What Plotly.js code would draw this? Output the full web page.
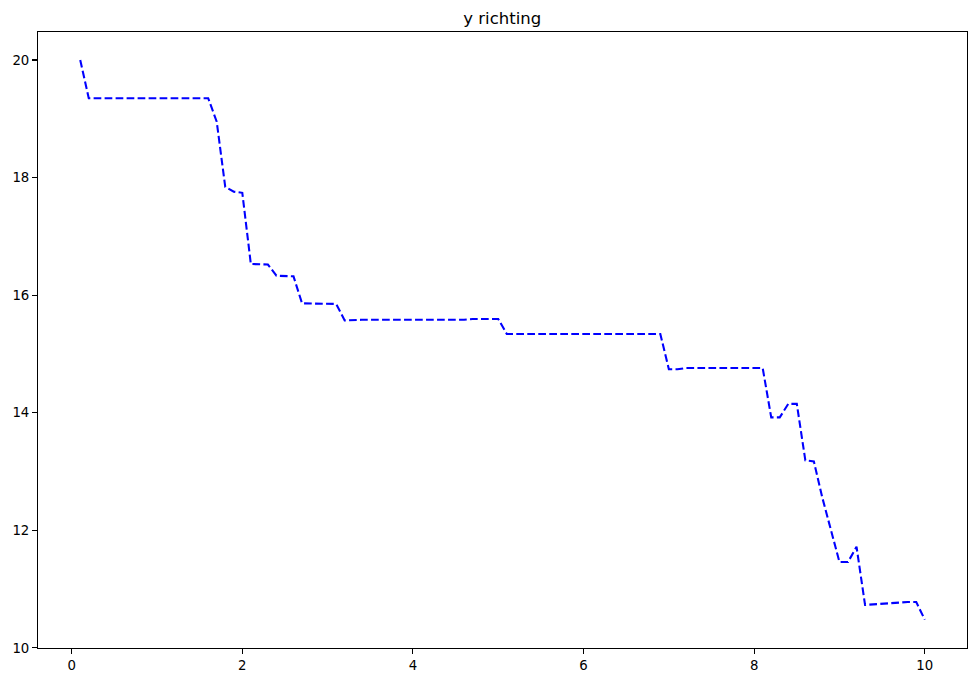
<!DOCTYPE html>
<html>
<head>
<meta charset="utf-8">
<script src="https://cdn.plot.ly/plotly-3.0.1.min.js"></script>
<style>html,body{margin:0;padding:0;background:#fff;}#chart{width:977px;height:682px;}</style>
</head>
<body>
<div id="chart"></div>
<script>
const xValues = [0.1,0.2,0.3,0.4,0.5,0.6,0.7,0.8,0.9,1.0,
  1.1,1.2,1.3,1.4,1.5,1.6,1.7,1.8,1.9,2.0,
  2.1,2.2,2.3,2.4,2.5,2.6,2.7,2.8,2.9,3.0,
  3.1,3.2,3.3,3.4,3.5,3.6,3.7,3.8,3.9,4.0,
  4.1,4.2,4.3,4.4,4.5,4.6,4.7,4.8,4.9,5.0,
  5.1,5.2,5.3,5.4,5.5,5.6,5.7,5.8,5.9,6.0,
  6.1,6.2,6.3,6.4,6.5,6.6,6.7,6.8,6.9,7.0,
  7.1,7.2,7.3,7.4,7.5,7.6,7.7,7.8,7.9,8.0,
  8.1,8.2,8.3,8.4,8.5,8.6,8.7,8.8,8.9,9.0,
  9.1,9.2,9.3,9.4,9.5,9.6,9.7,9.8,9.9,10.0];
const yValues = [20.0,19.35,19.35,19.35,19.35,19.35,19.35,19.35,19.35,19.35,
  19.35,19.35,19.35,19.35,19.35,19.35,18.95,17.84,17.76,17.74,
  16.53,16.53,16.52,16.33,16.33,16.32,15.86,15.86,15.86,15.86,
  15.85,15.57,15.58,15.58,15.58,15.58,15.58,15.58,15.58,15.58,
  15.58,15.58,15.58,15.58,15.58,15.58,15.595,15.595,15.595,15.595,
  15.34,15.34,15.34,15.34,15.34,15.34,15.34,15.34,15.34,15.34,
  15.34,15.34,15.34,15.34,15.34,15.34,15.34,15.34,15.34,14.74,
  14.74,14.76,14.76,14.76,14.76,14.76,14.76,14.76,14.76,14.76,
  14.76,13.92,13.92,14.15,14.15,13.19,13.17,12.55,11.98,11.46,
  11.46,11.72,10.73,10.74,10.76,10.77,10.77,10.78,10.78,10.48];
const xTicks = [0,2,4,6,8,10];
const yTicks = [10,12,14,16,18,20];
const chartTitle = "y richting";

const trace = {
  x: xValues, y: yValues, type: "scatter", mode: "lines",
  line: {color: "#0000ff", width: 2.08, dash: "7.7px,3.3px"},
  hoverinfo: "skip"
};
const axisCommon = {
  showgrid: false, zeroline: false, showline: true, mirror: true,
  linecolor: "#000", linewidth: 1.1, ticks: "outside", ticklen: 4.9,
  tickwidth: 1.1, tickcolor: "#000",
  tickfont: {family: "DejaVu Sans", size: 13.3, color: "#000"}
};
const layout = {
  width: 977, height: 682,
  margin: {l: 38, r: 10, t: 32, b: 34, pad: 0},
  paper_bgcolor: "#fff", plot_bgcolor: "#fff",
  showlegend: false,
  title: {text: chartTitle, x: 0.5141, xanchor: "center", y: 0.9736, yanchor: "middle",
    font: {family: "DejaVu Sans", size: 16.5, color: "#000"}},
  xaxis: Object.assign({}, axisCommon, {range: [-0.395, 10.495], tickvals: xTicks, ticktext: xTicks.map(String)}),
  yaxis: Object.assign({}, axisCommon, {range: [9.9976, 20.476], tickvals: yTicks, ticktext: yTicks.map(String)})
};
Plotly.newPlot("chart", [trace], layout, {staticPlot: true, displayModeBar: false});
</script>
</body>
</html>
